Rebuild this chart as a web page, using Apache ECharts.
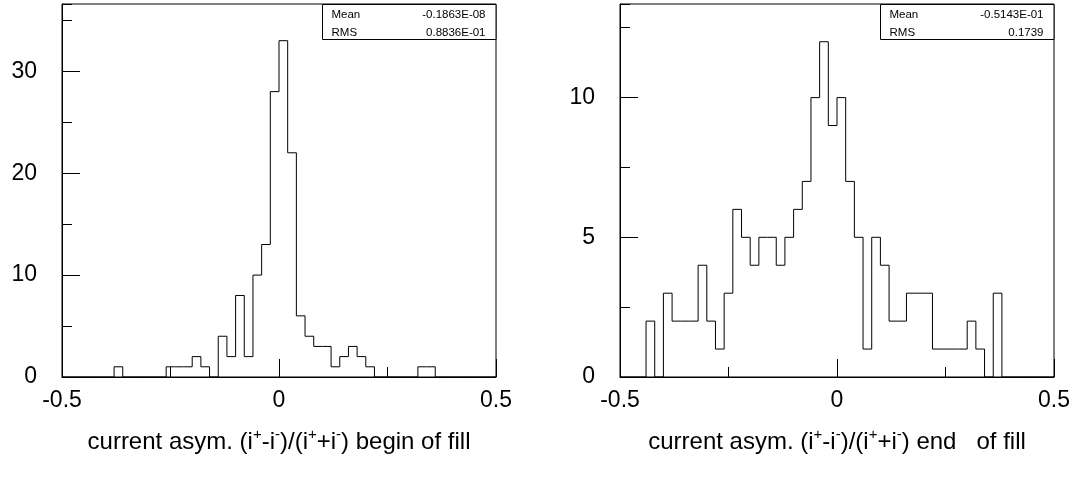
<!DOCTYPE html>
<html>
<head>
<meta charset="utf-8">
<script src="https://cdn.jsdelivr.net/npm/echarts@6/dist/echarts.min.js"></script>
<style>
  html, body { margin: 0; padding: 0; background: #fff; }
  #chart { width: 1085px; height: 479px; }
</style>
</head>
<body>
<div id="chart"></div>
<script>
// 50 bins from -0.5 to 0.5
var binLow = -0.5;
var binWidth = 0.02;

// counts per bin
var beginFill = [0,0,0,0,0,0,1,0,0,0, 0,0,1,1,1,2,1,0,4,2,
                 8,2,10,13,28,33,22,6,4,3, 3,1,2,3,2,1,0,0,0,0,
                 0,1,1,0,0,0,0,0,0,0];
var endFill = [0,0,0,2,0,3,2,2,2,4, 2,1,3,6,5,4,5,5,4,5,
               6,7,10,12,9,10,7,5,1,5, 4,2,2,3,3,3,1,1,1,1,
               2,1,0,3,0,0,0,0,0,0];

var beginStats = [["Mean", "-0.1863E-08"], ["RMS", "0.8836E-01"]];
var endStats = [["Mean", "-0.5143E-01"], ["RMS", "0.1739"]];

var beginTitle = "{n|current asym. (i}{s|+}{n|-i}{s|-}{n|)/(i}{s|+}{n|+i}{s|-}{n|) begin of fill}";
var endTitle = "{n|current asym. (i}{s|+}{n|-i}{s|-}{n|)/(i}{s|+}{n|+i}{s|-}{n|) end   of fill}";

var FONT = "Liberation Sans";

function stepData(counts) {
  var pts = [];
  for (var i = 0; i < counts.length; i++) {
    pts.push([binLow + i * binWidth, counts[i]]);
  }
  pts.push([binLow + counts.length * binWidth, 0]);
  return pts;
}

function xAxes(g, title) {
  return [
    {
      gridIndex: g, type: "value", position: "bottom", min: -0.5, max: 0.5, interval: 0.5,
      axisLine: { onZero: false, lineStyle: { color: "#000", width: 1 } },
      axisTick: { inside: true, length: 18, lineStyle: { color: "#000" } },
      axisLabel: { fontSize: 23, color: "#000", fontFamily: FONT, margin: 12 },
      splitLine: { show: false },
      name: title, nameLocation: "middle", nameGap: 50,
      nameTextStyle: {
        color: "#000", fontFamily: FONT, fontSize: 24,
        rich: {
          n: { fontSize: 24, fontFamily: FONT, color: "#000", lineHeight: 30 },
          s: { fontSize: 15, fontFamily: FONT, color: "#000", verticalAlign: "top", lineHeight: 30 }
        }
      }
    },
    {
      gridIndex: g, type: "value", position: "bottom", min: -0.5, max: 0.5, interval: 0.25,
      axisLine: { show: false, onZero: false },
      axisTick: { inside: true, length: 10, lineStyle: { color: "#000" } },
      axisLabel: { show: false },
      splitLine: { show: false }
    }
  ];
}

function yAxes(g, max, major, minor) {
  return [
    {
      gridIndex: g, type: "value", position: "left", min: 0, max: max, interval: major,
      axisLine: { show: true, onZero: false, lineStyle: { color: "#000", width: 1 } },
      axisTick: { show: true, inside: true, length: 18, lineStyle: { color: "#000" } },
      axisLabel: { fontSize: 23, color: "#000", fontFamily: FONT, margin: 25, showMaxLabel: false },
      splitLine: { show: false }
    },
    {
      gridIndex: g, type: "value", position: "left", min: 0, max: max, interval: minor,
      axisLine: { show: false, onZero: false },
      axisTick: { show: true, inside: true, length: 10, lineStyle: { color: "#000" } },
      axisLabel: { show: false },
      splitLine: { show: false }
    }
  ];
}

function statBox(x, rows) {
  var kids = [{
    type: "rect",
    shape: { x: 0, y: 0, width: 173.5, height: 35 },
    style: { fill: "#fff", stroke: "#000", lineWidth: 1 }
  }];
  rows.forEach(function (r, i) {
    kids.push({ type: "text", x: 9, y: 10.5 + i * 17.5,
      style: { text: r[0], fill: "#000", font: "11.5px '" + FONT + "'", verticalAlign: "middle" } });
    kids.push({ type: "text", x: 163, y: 10.5 + i * 17.5,
      style: { text: r[1], fill: "#000", font: "11.5px '" + FONT + "'", verticalAlign: "middle", align: "right" } });
  });
  return { type: "group", x: x, y: 4.5, z: 10, children: kids };
}

var chart = echarts.init(document.getElementById("chart"));
chart.setOption({
  animation: false,
  backgroundColor: "#fff",
  grid: [
    { left: 62, right: 589, top: 4, bottom: 102, show: true, borderColor: "#000", borderWidth: 1 },
    { left: 620, right: 31, top: 4, bottom: 102, show: true, borderColor: "#000", borderWidth: 1 }
  ],
  xAxis: xAxes(0, beginTitle).concat(xAxes(1, endTitle)),
  yAxis: yAxes(0, 36.6, 10, 5).concat(yAxes(1, 13.35, 5, 2.5)),
  series: [
    {
      type: "line", step: "end", xAxisIndex: 0, yAxisIndex: 0,
      symbol: "none", lineStyle: { color: "#000", width: 1 },
      data: stepData(beginFill)
    },
    {
      type: "line", step: "end", xAxisIndex: 2, yAxisIndex: 2,
      symbol: "none", lineStyle: { color: "#000", width: 1 },
      data: stepData(endFill)
    }
  ],
  graphic: [statBox(322.5, beginStats), statBox(880.5, endStats)]
});
</script>
</body>
</html>
